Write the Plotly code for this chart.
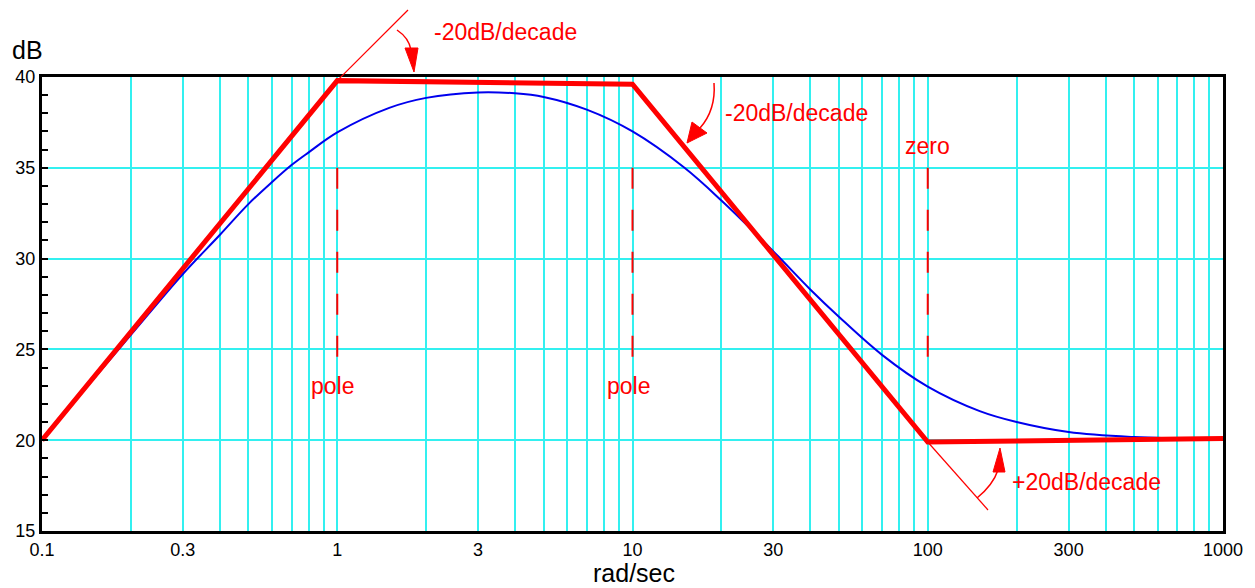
import math
import plotly.graph_objects as go

# Bode magnitude plot: straight-line asymptotes vs. exact response
freq_exact = [0.1, 0.15, 0.2, 0.3, 0.4, 0.5, 0.6, 0.7, 0.8, 1, 1.5, 2, 3, 4, 5, 7,
              10, 15, 20, 30, 40, 50, 70, 100, 150, 200, 300, 500, 700, 1000]
db_exact = [20.0, 23.4, 25.8, 29.15, 31.3, 33.0, 34.2, 35.15, 35.85, 36.95, 38.3, 38.85,
            39.15, 39.1, 38.9, 38.2, 37.0, 35.0, 33.2, 30.4, 28.3, 26.8, 24.7, 22.95,
            21.6, 21.0, 20.45, 20.17, 20.1, 20.05]

freq_asym = [0.1, 1, 10, 100, 1000]
db_asym = [20.0, 39.8, 39.6, 19.9, 20.1]

break_freqs = [1, 10, 100]
break_db_span = [35.0, 24.5]
break_names = ["pole", "pole", "zero"]

x_tick_vals = [m * 10 ** e for e in range(-1, 3) for m in range(1, 10)] + [1000]
x_tick_labels = {0.1: "0.1", 0.3: "0.3", 1: "1", 3: "3", 10: "10", 30: "30",
                 100: "100", 300: "300", 1000: "1000"}
y_tick_vals = [15, 20, 25, 30, 35, 40]

RED = "#ff0000"
CYAN = "#33f0f0"
FONT = "Liberation Sans, Arial, sans-serif"

W, H = 1255, 588
L, R, T, B = 42, 1223, 77, 531
XMIN, XMAX = -1, 3
YMIN, YMAX = 15, 40


def xp(px):
    return (px - L) / (R - L)


def yp(py):
    return (B - py) / (B - T)


def xd(v):
    return (math.log10(v) - XMIN) / (XMAX - XMIN)


def yd(v):
    return (v - YMIN) / (YMAX - YMIN)


fig = go.Figure()

fig.add_trace(go.Scatter(x=freq_exact, y=db_exact, mode="lines", line_shape="spline",
                         line=dict(color="#0000ee", width=2), hoverinfo="skip"))
fig.add_trace(go.Scatter(x=freq_asym, y=db_asym, mode="lines",
                         line=dict(color=RED, width=5), hoverinfo="skip"))
for f in break_freqs:
    fig.add_trace(go.Scatter(x=[f, f], y=break_db_span, mode="lines",
                             line=dict(color=RED, width=2, dash="21px,21px"),
                             hoverinfo="skip"))

shapes = []
# slope extension guides
shapes.append(dict(type="line", xref="paper", yref="paper",
                   x0=xd(freq_asym[1]), y0=yd(db_asym[1]), x1=xp(408), y1=yp(10),
                   line=dict(color=RED, width=1.2)))
shapes.append(dict(type="line", xref="paper", yref="paper",
                   x0=xd(freq_asym[3]), y0=yd(db_asym[3]), x1=xp(988), y1=yp(510),
                   line=dict(color=RED, width=1.2)))


def curve(p0, c, p1):
    return dict(type="path", xref="paper", yref="paper",
                path=f"M {xp(p0[0])},{yp(p0[1])} Q {xp(c[0])},{yp(c[1])} {xp(p1[0])},{yp(p1[1])}",
                line=dict(color=RED, width=1.5))


def head(a, b, tip):
    return dict(type="path", xref="paper", yref="paper",
                path=f"M {xp(a[0])},{yp(a[1])} L {xp(b[0])},{yp(b[1])} L {xp(tip[0])},{yp(tip[1])} Z",
                fillcolor=RED, line=dict(color=RED, width=1))


# curved arrows pointing at the slope changes
shapes.append(curve((397, 30), (409, 38), (411, 50)))
shapes.append(head((405, 48), (418, 48), (414, 72)))
shapes.append(curve((714, 83), (716, 110), (700, 128)))
shapes.append(head((692, 122), (707, 133), (687, 143)))
shapes.append(curve((977, 498), (993, 485), (998, 470)))
shapes.append(head((993, 472), (1005, 472), (1000, 448)))

annotations = []
for f, name in zip(break_freqs, break_names):
    if name == "zero":
        annotations.append(dict(x=math.log10(f), y=36.2, xref="x", yref="y", text=name,
                                showarrow=False, xanchor="center", yanchor="middle"))
    else:
        annotations.append(dict(x=math.log10(f) - 0.015, y=23.0, xref="x", yref="y",
                                text=name, showarrow=False, xanchor="center",
                                yanchor="middle"))

for txt, px_, py_ in [("-20dB/decade", 505, 32), ("-20dB/decade", 797, 113),
                      ("+20dB/decade", 1086, 482)]:
    annotations.append(dict(x=xp(px_), y=yp(py_), xref="paper", yref="paper", text=txt,
                            showarrow=False, xanchor="center", yanchor="middle"))
for a in annotations:
    a["font"] = dict(family=FONT, size=23, color=RED)

annotations.append(dict(x=xp(27), y=yp(50), xref="paper", yref="paper", text="dB",
                        showarrow=False, xanchor="center", yanchor="middle",
                        font=dict(family=FONT, size=25, color="black")))
annotations.append(dict(x=xp(634), y=yp(573), xref="paper", yref="paper", text="rad/sec",
                        showarrow=False, xanchor="center", yanchor="middle",
                        font=dict(family=FONT, size=25, color="black")))

fig.update_layout(
    width=W, height=H,
    margin=dict(l=L, r=W - R, t=T, b=H - B),
    paper_bgcolor="white", plot_bgcolor="white",
    showlegend=False,
    font=dict(family=FONT, size=18, color="black"),
    shapes=shapes,
    annotations=annotations,
    xaxis=dict(type="log", range=[XMIN, XMAX],
               tickvals=x_tick_vals,
               ticktext=[x_tick_labels.get(round(v, 6), "") for v in x_tick_vals],
               showgrid=True, gridcolor=CYAN, gridwidth=1.5,
               showline=True, linecolor="black", linewidth=3, mirror=True,
               ticks="", zeroline=False,
               tickfont=dict(family=FONT, size=18, color="black")),
    yaxis=dict(range=[YMIN, YMAX], tickvals=y_tick_vals,
               showgrid=True, gridcolor=CYAN, gridwidth=1.5,
               showline=True, linecolor="black", linewidth=3, mirror=True,
               ticks="inside", ticklen=6, tickcolor="black", tickwidth=1.5,
               minor=dict(dtick=1, ticks="inside", ticklen=6, tickcolor="black",
                          tickwidth=1.5, showgrid=False),
               zeroline=False,
               tickfont=dict(family=FONT, size=18, color="black")),
)

fig.write_html("out.html")
